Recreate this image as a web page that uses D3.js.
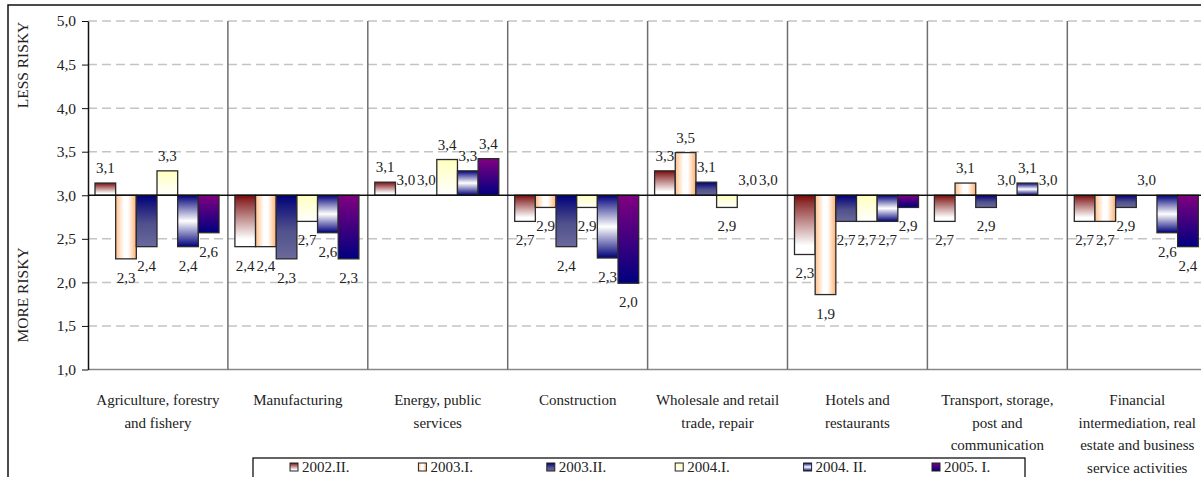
<!DOCTYPE html>
<html>
<head>
<meta charset="utf-8">
<script src="https://cdn.jsdelivr.net/npm/d3@7"></script>
<style>
  body { margin: 0; background: #fff; }
  svg text { font-family: "Liberation Serif", "Times New Roman", serif; fill: #222; }
  .tick text { font-size: 15.5px; }
  .val { font-size: 15px; text-anchor: middle; }
  .cat { font-size: 15px; text-anchor: middle; }
  .leg { font-size: 15px; }
</style>
</head>
<body>
<script>
const categories = ['Agriculture', 'Manufacturing', 'Energy', 'Construction', 'Wholesale', 'Hotels', 'Transport', 'Financial'];
const categoryLines = [
  ['Agriculture, forestry', 'and fishery'],
  ['Manufacturing'],
  ['Energy, public', 'services'],
  ['Construction'],
  ['Wholesale and retail', 'trade, repair'],
  ['Hotels and', 'restaurants'],
  ['Transport, storage,', 'post and', 'communication'],
  ['Financial', 'intermediation, real', 'estate and business', 'service activities']
];
const seriesNames = ['2002.II.', '2003.I.', '2003.II.', '2004.I.', '2004. II.', '2005. I.'];

const s2002II = [3.14, 2.41, 3.15, 2.70, 3.28, 2.32, 2.70, 2.70];
const s2003I  = [2.27, 2.41, 3.00, 2.86, 3.49, 1.86, 3.14, 2.70];
const s2003II = [2.41, 2.27, 3.00, 2.41, 3.15, 2.70, 2.86, 2.86];
const s2004I  = [3.28, 2.70, 3.41, 2.86, 2.86, 2.70, 3.00, 3.00];
const s2004II = [2.41, 2.57, 3.28, 2.28, 3.00, 2.70, 3.14, 2.57];
const s2005I  = [2.57, 2.27, 3.42, 1.99, 3.00, 2.86, 3.00, 2.41];

const yTicks = [1, 1.5, 2, 2.5, 3, 3.5, 4, 4.5, 5];
const baseValue = 3;

const seriesValues = [s2002II, s2003I, s2003II, s2004I, s2004II, s2005I];

const config = {
  width: 1201,
  height: 477,
  left: 88,
  top: 21,
  bottom: 369.5,
  catWidth: 139.9
};

const svg = d3.select('body')
  .append('svg')
  .attr('width', config.width)
  .attr('height', config.height)
  .attr('font-family', '"Liberation Serif", serif');

// gradients for each series
const defs = svg.append('defs');
const grads = [
  { dir: 'v', stops: [[0, '#7a0808'], [0.12, '#8e3232'], [0.85, '#ffffff'], [1, '#ffffff']] },
  { dir: 'h', stops: [[0, '#ffc08a'], [0.4, '#ffffff'], [0.6, '#ffffff'], [1, '#ffb070']] },
  { dir: 'v', stops: [[0, '#000078'], [0.55, '#50508c'], [1, '#6a6a9c']] },
  { dir: 'v', stops: [[0, '#ffffbe'], [1, '#ffffff']] },
  { dir: 'v', stops: [[0, '#00007a'], [0.5, '#ffffff'], [1, '#00007a']] },
  { dir: 'v', stops: [[0, '#800080'], [1, '#000080']] }
];
grads.forEach((g, i) => {
  const lg = defs.append('linearGradient')
    .attr('id', 'g' + i)
    .attr('x1', 0).attr('y1', 0)
    .attr('x2', g.dir === 'h' ? 1 : 0)
    .attr('y2', g.dir === 'h' ? 0 : 1);
  g.stops.forEach(s => lg.append('stop').attr('offset', s[0]).attr('stop-color', s[1]));
});

// outer frame
svg.append('rect')
  .attr('x', 8).attr('y', 5)
  .attr('width', 1400).attr('height', 600)
  .attr('fill', '#fff')
  .attr('stroke', '#111')
  .attr('stroke-width', 1.5);

const x = d3.scaleBand()
  .domain(categories)
  .range([config.left, config.left + categories.length * config.catWidth]);

const xs = d3.scaleBand()
  .domain(d3.range(seriesNames.length))
  .range([7, 131]);

const y = d3.scaleLinear()
  .domain([1, 5])
  .range([config.bottom, config.top]);

const plotRight = config.left + categories.length * config.catWidth;

// dashed gridlines
svg.append('g')
  .selectAll('line')
  .data(yTicks.filter(t => t !== 1 && t !== baseValue))
  .enter()
  .append('line')
  .attr('x1', config.left).attr('x2', plotRight)
  .attr('y1', d => y(d)).attr('y2', d => y(d))
  .attr('stroke', '#c4c4c4')
  .attr('stroke-width', 1.5)
  .attr('stroke-dasharray', '9,5');

// bottom line
svg.append('line')
  .attr('x1', config.left).attr('x2', plotRight)
  .attr('y1', y(1)).attr('y2', y(1))
  .attr('stroke', '#888')
  .attr('stroke-width', 1.5);

// category separators
svg.append('g')
  .selectAll('line')
  .data(categories.slice(1))
  .enter()
  .append('line')
  .attr('x1', d => x(d)).attr('x2', d => x(d))
  .attr('y1', y(5)).attr('y2', y(1))
  .attr('stroke', '#6e6e6e')
  .attr('stroke-width', 1.5);

// bars
const flat = [];
categories.forEach((c, ci) => {
  seriesValues.forEach((vals, si) => flat.push({ cat: c, ci, si, value: vals[ci] }));
});

svg.append('g')
  .selectAll('rect')
  .data(flat.filter(d => d.value !== baseValue))
  .enter()
  .append('rect')
  .attr('x', d => x(d.cat) + xs(d.si))
  .attr('width', xs.bandwidth())
  .attr('y', d => Math.min(y(d.value), y(baseValue)))
  .attr('height', d => Math.abs(y(d.value) - y(baseValue)))
  .attr('fill', d => `url(#g${d.si})`)
  .attr('stroke', '#2a2a2a')
  .attr('stroke-width', 1.3);

// baseline at 3.0
svg.append('line')
  .attr('x1', config.left).attr('x2', plotRight)
  .attr('y1', y(baseValue)).attr('y2', y(baseValue))
  .attr('stroke', '#111')
  .attr('stroke-width', 1.5);

// value labels
const fmt = d => d3.format('.1f')(d).replace('.', ',');
svg.append('g')
  .selectAll('text')
  .data(flat)
  .enter()
  .append('text')
  .attr('class', 'val')
  .attr('x', d => x(d.cat) + xs(d.si) + xs.bandwidth() / 2)
  .attr('y', d => d.value >= baseValue ? y(d.value) - 10 : y(d.value) + 24)
  .text(d => fmt(d.value));

// y axis
const yAxis = svg.append('g')
  .attr('transform', `translate(${config.left},0)`)
  .call(d3.axisLeft(y).tickValues(yTicks).tickFormat(fmt).tickSize(6).tickSizeOuter(0))
  .attr('font-family', null)
  .attr('font-size', null);
yAxis.select('.domain').attr('stroke', '#111').attr('stroke-width', 1.5);
yAxis.selectAll('.tick line').attr('stroke', '#111');
yAxis.selectAll('.tick text').attr('x', -12).attr('fill', '#222');

// axis titles
svg.append('text')
  .attr('transform', 'translate(28,65) rotate(-90)')
  .attr('text-anchor', 'middle')
  .style('font-size', '15.5px')
  .text('LESS RISKY');
svg.append('text')
  .attr('transform', 'translate(28,295) rotate(-90)')
  .attr('text-anchor', 'middle')
  .style('font-size', '15.5px')
  .text('MORE RISKY');

// category labels
const catG = svg.append('g')
  .selectAll('text')
  .data(categories)
  .enter()
  .append('text')
  .attr('class', 'cat')
  .attr('x', d => x(d) + x.bandwidth() / 2)
  .attr('y', 405);
catG.selectAll('tspan')
  .data((d, i) => categoryLines[i])
  .enter()
  .append('tspan')
  .attr('x', function() { return this.parentNode.getAttribute('x'); })
  .attr('y', (d, i) => 405 + i * 22.7)
  .text(d => d);

// legend
const legend = svg.append('g');
legend.append('rect')
  .attr('x', 253).attr('y', 458)
  .attr('width', 772).attr('height', 40)
  .attr('fill', '#fff')
  .attr('stroke', '#111')
  .attr('stroke-width', 1.3);

const legItem = legend.selectAll('g')
  .data(seriesNames)
  .enter()
  .append('g')
  .attr('transform', (d, i) => `translate(${290 + i * 128.4},463)`);
legItem.append('rect')
  .attr('width', 8).attr('height', 8)
  .attr('fill', (d, i) => `url(#g${i})`)
  .attr('stroke', '#222')
  .attr('stroke-width', 1);
legItem.append('text')
  .attr('class', 'leg')
  .attr('x', 12)
  .attr('y', 9)
  .text(d => d);
</script>
</body>
</html>
